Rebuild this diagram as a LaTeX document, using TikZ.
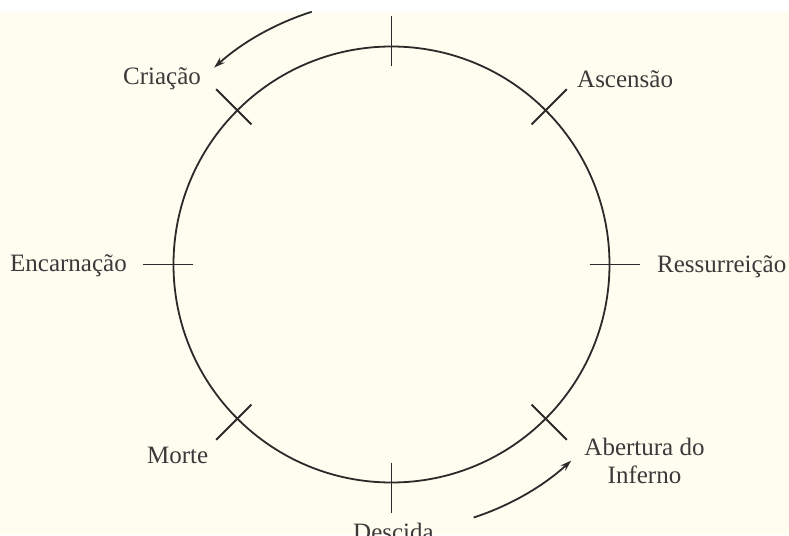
\documentclass[tikz,border=0pt]{standalone}
\usepackage{fontspec}
\setmainfont{Liberation Serif}
\usepackage{tikz}
\usetikzlibrary{arrows.meta}
\definecolor{paper}{HTML}{FEFDF0}
\definecolor{ink}{HTML}{2A2A2A}
\definecolor{lettering}{HTML}{3A3A3A}
\tikzset{
  wheel/.style={draw=ink, line width=1.8pt},
  tickmark/.style={draw=ink, line width=1.8pt},
  flowarr/.style={-{Stealth[length=11pt,width=7pt]}, draw=ink, line width=1.8pt},
  stage/.style={inner sep=0pt, text=lettering, font=\fontsize{25}{28}\selectfont},
}
\begin{document}
\begin{tikzpicture}[x=1pt,y=1pt]
  \def\R{218} % radius of the cycle
  % page: white strip on top, paper below
  \useasboundingbox (-391.5,-270.5) rectangle (397.5,264.5);
  \fill[white] (-391.5,252.5) rectangle (397.5,264.5);
  \fill[paper] (-391.5,-270.5) rectangle (397.5,252.5);
  % the cycle with its eight marks
  \draw[wheel] (0,0) circle (\R);
  \foreach \a in {0,45,...,315}
    \draw[tickmark] (\a:{\R-20}) -- (\a:{\R+30});
  % stages
  \node[stage, anchor=base west] (criacao) at (-268.5,179.5) {Criação};
  \node[stage, anchor=base west] (ascensao) at (185.5,176.5) {Ascensão};
  \node[stage, anchor=base west] (encarnacao) at (-381.5,-6.5) {Encarnação};
  \node[stage, anchor=base west] (ressurreicao) at (265.5,-8.5) {Ressurreição};
  \node[stage, anchor=base west] (morte) at (-244.5,-198.5) {Morte};
  \node[stage, anchor=base west] (descida) at (-38.5,-275.5) {Descida};
  \node[stage, anchor=base, align=center] (abertura) at (253,-218.5) {Abertura do\\Inferno};
  % direction of travel, outside the circle
  \coordinate (inflow) at (107.5:265);
  \draw[flowarr] (inflow) arc[start angle=107.5, end angle=132, radius=265];
  \coordinate (outflow) at (-72:266);
  \draw[flowarr] (outflow) arc[start angle=-72, end angle=-47.5, radius=266];
\end{tikzpicture}
\end{document}
